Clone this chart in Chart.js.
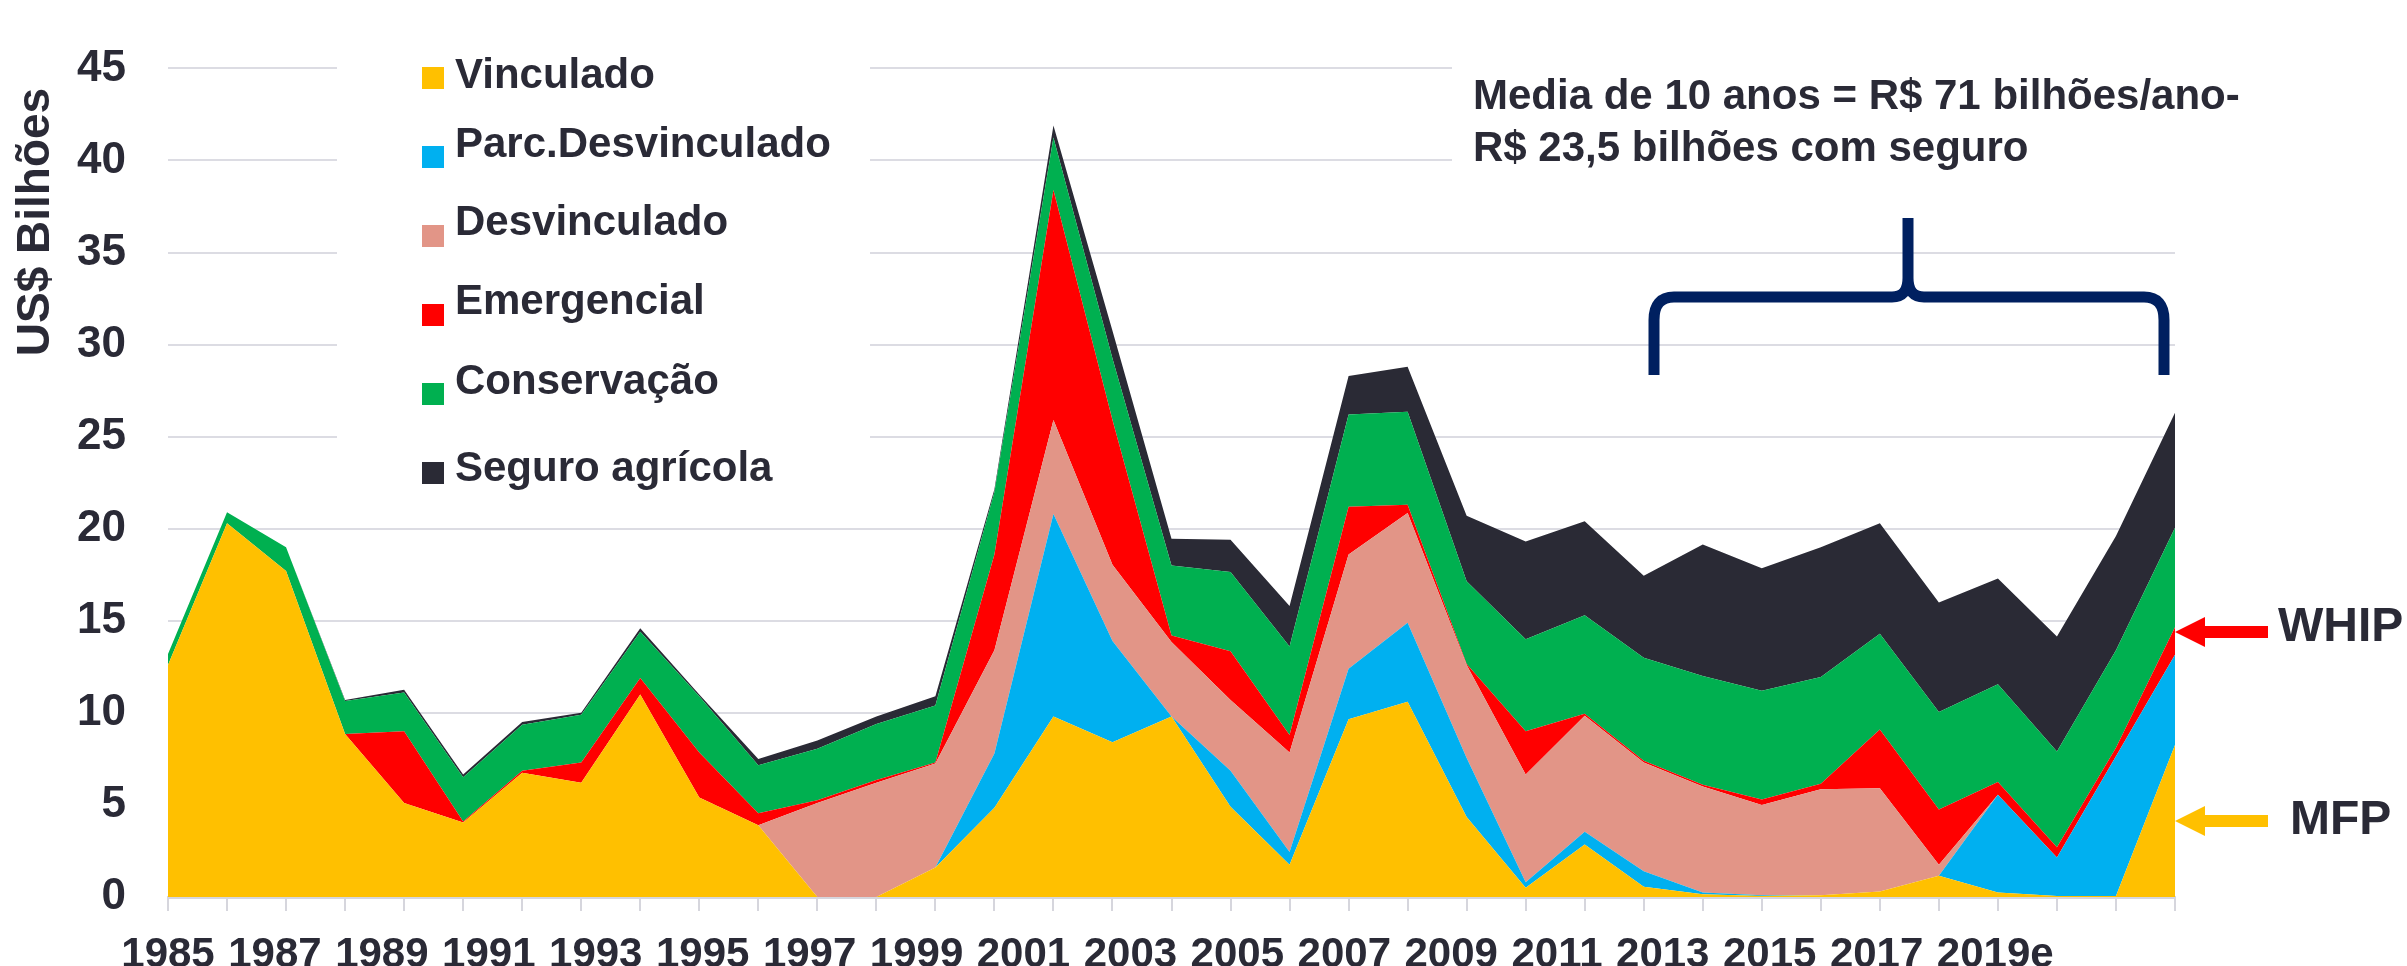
<!DOCTYPE html>
<html>
<head>
<meta charset="utf-8">
<script src="https://cdn.jsdelivr.net/npm/chart.js@4/dist/chart.umd.min.js"></script>
<style>
html,body{margin:0;padding:0;background:#ffffff;}
#wrap{width:2407px;height:966px;position:relative;}
</style>
</head>
<body>
<div id="wrap"><canvas id="c" width="2407" height="966"></canvas></div>
<script>
// ---- data (US$ billions) ----
const years = ['1985','1986','1987','1988','1989','1990','1991','1992','1993','1994',
  '1995','1996','1997','1998','1999','2000','2001','2002','2003','2004',
  '2005','2006','2007','2008','2009','2010','2011','2012','2013','2014',
  '2015','2016','2017','2018','2019'];
const tickLabels = ['1985','1987','1989','1991','1993','1995','1997','1999','2001',
  '2003','2005','2007','2009','2011','2013','2015','2017','2019e'];
const vinculado = [12.6,20.3,17.7,8.85,5.1,4.05,6.75,6.2,11.0,5.4,
  3.9,0,0,1.6,4.85,9.8,8.4,9.8,4.9,1.75,
  9.65,10.6,4.35,0.5,2.85,0.55,0.15,0.05,0.1,0.3,
  1.15,0.25,0.05,0.05,8.25];
const parcDesvinculado = [0,0,0,0,0,0,0,0,0,0,
  0,0,0,0,2.95,11.0,5.5,0,1.95,0.7,
  2.75,4.3,3.2,0.3,0.7,0.85,0.1,0.05,0,0,
  0,5.3,2.1,7.6,4.9];
const desvinculado = [0,0,0,0,0,0,0,0,0,0,
  0,5.1,6.2,5.65,5.6,5.1,4.15,4.05,3.85,5.4,
  6.2,5.95,5.05,5.85,6.3,5.9,5.75,4.9,5.75,5.6,
  0.6,0,0,0,0];
const emergencial = [0,0,0,0,3.9,0.05,0.1,1.1,0.9,2.45,
  0.65,0.15,0.15,0.05,5.2,12.5,7.85,0.35,2.65,0.95,
  2.6,0.45,0.05,2.35,0.1,0.1,0.1,0.3,0.3,3.2,
  3.0,0.7,0.55,0.45,1.5];
const conservacao = [0.6,0.6,1.3,1.8,2.1,2.4,2.5,2.6,2.5,3.05,
  2.6,2.8,3.05,3.1,3.4,2.85,3.35,3.8,4.3,4.8,
  5.0,5.05,4.5,5.0,5.35,5.6,5.9,5.9,5.8,5.2,
  5.3,5.3,5.2,5.3,5.4];
const seguroAgricola = [0,0,0,0.05,0.15,0.15,0.15,0.1,0.2,0.1,
  0.35,0.45,0.4,0.5,0.15,0.65,1.5,1.45,1.75,2.2,
  2.1,2.45,3.55,5.3,5.1,4.45,7.15,6.65,7.05,6.0,
  5.95,5.75,6.25,6.2,6.25];
const seriesNames = ['Vinculado','Parc.Desvinculado','Desvinculado','Emergencial','Conservação','Seguro agrícola'];
const seriesColors = ['#FFC000','#00B0F0','#E29587','#FF0000','#00B050','#2A2A35'];
const seriesValues = [vinculado,parcDesvinculado,desvinculado,emergencial,conservacao,seguroAgricola];
const yTicks = [0,5,10,15,20,25,30,35,40,45];
const yTitle = 'US$ Bilhões';
const noteLines = ['Media de 10 anos = R$ 71 bilhões/ano-','R$ 23,5 bilhões com seguro'];
const arrowLabels = ['WHIP','MFP'];

const TEXT = '#2A2A36';
const FONT = "'Liberation Sans', Arial, sans-serif";
const XLABEL_FONT = 'bold 42px ' + FONT;
const XLABEL_GAP = 13.5; // px between consecutive year labels (labels run as one row)

const datasets = seriesValues.map((vals,i)=>({
  label: seriesNames[i],
  data: vals,
  backgroundColor: seriesColors[i],
  borderColor: seriesColors[i],
  borderWidth: 0,
  pointRadius: 0,
  tension: 0,
  fill: i === 0 ? 'origin' : '-1',
  xAxisID: 'x',
  yAxisID: 'y'
}));

const measureCtx = document.createElement('canvas').getContext('2d');

const decor = {
  id: 'decor',
  beforeDatasetsDraw(chart){
    const ctx = chart.ctx;
    ctx.save();
    ctx.fillStyle = '#ffffff';
    ctx.fillRect(337, 44, 533, 456);
    ctx.fillRect(1452, 44, 810, 142);
    const sqTop = [67,146,225,304,383,462];
    const txtY = [76,145,223,302,382,469];
    ctx.font = 'bold 42px ' + FONT;
    ctx.textBaseline = 'middle';
    ctx.textAlign = 'left';
    chart.data.datasets.forEach((ds,i)=>{
      ctx.fillStyle = ds.backgroundColor;
      ctx.fillRect(422, sqTop[i], 22, 22);
      ctx.fillStyle = TEXT;
      ctx.fillText(ds.label, 455, txtY[i]);
    });
    ctx.fillStyle = TEXT;
    ctx.fillText(noteLines[0], 1473, 97);
    ctx.fillText(noteLines[1], 1473, 149);
    ctx.restore();
  },
  afterDraw(chart){
    const ctx = chart.ctx;
    ctx.save();
    ctx.translate(36, 222);
    ctx.rotate(-Math.PI/2);
    ctx.font = 'bold 46px ' + FONT;
    ctx.fillStyle = TEXT;
    ctx.textAlign = 'center';
    ctx.textBaseline = 'middle';
    ctx.fillText(yTitle, 0, 0);
    ctx.restore();

    // curly brace over the last ten years
    const cx = 1908;
    ctx.save();
    ctx.strokeStyle = '#002060';
    ctx.lineWidth = 11;
    ctx.lineJoin = 'round';
    ctx.beginPath();
    ctx.moveTo(1654, 375);
    ctx.lineTo(1654, 320);
    ctx.quadraticCurveTo(1654, 297, 1674, 297);
    ctx.lineTo(cx - 16, 297);
    ctx.quadraticCurveTo(cx, 297, cx, 278);
    ctx.lineTo(cx, 218);
    ctx.moveTo(cx, 278);
    ctx.quadraticCurveTo(cx, 297, cx + 16, 297);
    ctx.lineTo(2144, 297);
    ctx.quadraticCurveTo(2164, 297, 2164, 320);
    ctx.lineTo(2164, 375);
    ctx.stroke();
    ctx.restore();

    function arrow(color, yc){
      ctx.save();
      ctx.fillStyle = color;
      ctx.beginPath();
      ctx.moveTo(2175, yc);
      ctx.lineTo(2205, yc-15);
      ctx.lineTo(2205, yc+15);
      ctx.closePath();
      ctx.fill();
      ctx.fillRect(2203, yc-6, 65, 12);
      ctx.restore();
    }
    arrow('#FF0000', 632);
    arrow('#FFC000', 821);
    ctx.save();
    ctx.font = 'bold 48px ' + FONT;
    ctx.fillStyle = TEXT;
    ctx.textAlign = 'left';
    ctx.textBaseline = 'middle';
    ctx.fillText(arrowLabels[0], 2278, 628);
    ctx.fillText(arrowLabels[1], 2290, 821);
    ctx.restore();
  }
};

new Chart(document.getElementById('c'), {
  type: 'line',
  data: { labels: years, datasets },
  plugins: [decor],
  options: {
    responsive: false,
    animation: false,
    devicePixelRatio: 1,
    layout: { padding: { left: 0, right: 232, top: 35, bottom: 0 } },
    plugins: { legend: { display: false }, tooltip: { enabled: false } },
    elements: { point: { radius: 0 }, line: { borderWidth: 0 } },
    scales: {
      x: {
        type: 'category',
        offset: false,
        weight: 0,
        grid: { display: true, drawOnChartArea: false, color: '#d6d6dd', lineWidth: 2, tickLength: 14, tickWidth: 2 },
        border: { display: true, color: '#d6d6dd', width: 3 },
        ticks: { display: false },
        afterFit(s){ s.height = 14; }
      },
      xl: {
        type: 'linear',
        position: 'bottom',
        weight: 1,
        min: 0,
        max: years.length - 1,
        grid: { display: false },
        border: { display: false },
        ticks: {
          autoSkip: false, maxRotation: 0, minRotation: 0, padding: 11,
          color: TEXT, font: { family: FONT, size: 42, weight: 'bold' },
          callback: (v, i) => tickLabels[i]
        },
        afterBuildTicks(s){
          // year labels are set as one row with equal gaps, starting centred on the first year
          measureCtx.font = XLABEL_FONT;
          const widths = tickLabels.map(t => measureCtx.measureText(t).width);
          const pxPerUnit = (s.width > 0 ? s.width : 2007) / (years.length - 1);
          let left = -widths[0] / 2;
          s.ticks = tickLabels.map((t, i) => {
            const centre = left + widths[i] / 2;
            left += widths[i] + XLABEL_GAP;
            return { value: centre / pxPerUnit };
          });
        },
        afterFit(s){ s.height = 55; }
      },
      y: {
        stacked: true,
        min: 0, max: 45,
        grid: { color: '#dcdce3', lineWidth: 2, drawTicks: false },
        border: { display: false },
        ticks: {
          stepSize: 5, padding: 42, color: TEXT,
          font: { family: FONT, size: 44, weight: 'bold' }
        },
        afterBuildTicks(s){ s.ticks = yTicks.map(v=>({ value: v })); },
        afterFit(s){ s.width = 168; }
      }
    }
  }
});
</script>
</body>
</html>
